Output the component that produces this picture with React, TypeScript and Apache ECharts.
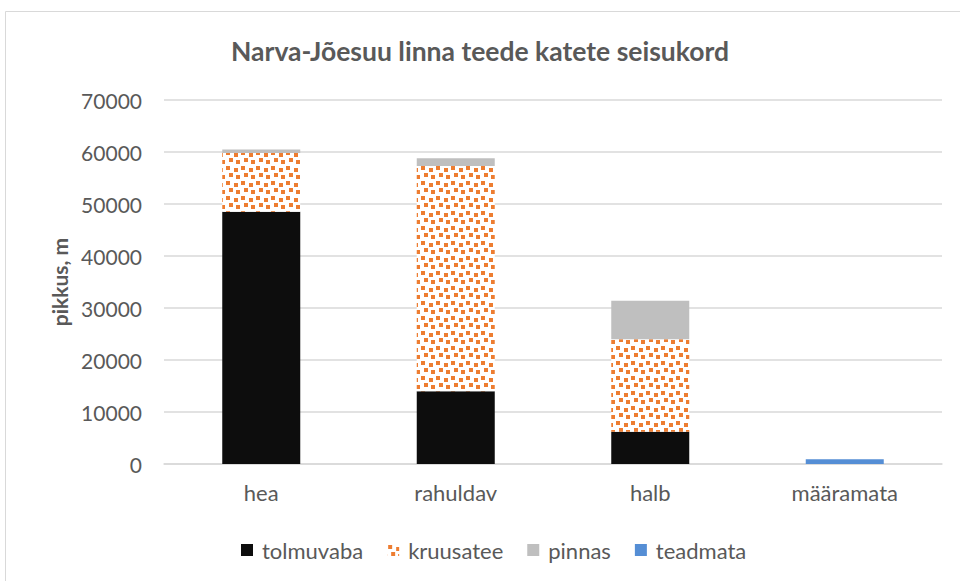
import React, { useEffect, useRef } from "react";
import * as echarts from "echarts";

const categories = ["hea", "rahuldav", "halb", "määramata"];
const tolmuvaba = [48500, 14000, 6200, 0];
const kruusatee = [11300, 43300, 17800, 0];
const pinnas = [700, 1500, 7400, 0];
const teadmata = [0, 0, 0, 900];
const yTicks = [0, 10000, 20000, 30000, 40000, 50000, 60000, 70000];

const FONT = "Lato, 'Open Sans', sans-serif";
const TXT = "#595959";

function makePattern(): HTMLCanvasElement {
  const c = document.createElement("canvas");
  c.width = 15;
  c.height = 15;
  const ctx = c.getContext("2d")!;
  ctx.fillStyle = "#ffffff";
  ctx.fillRect(0, 0, 15, 15);
  ctx.fillStyle = "#ED7D31";
  const pts = [
    [1, 1],
    [9, 3],
    [4, 8],
    [11, 10],
  ];
  for (const [x, y] of pts) ctx.fillRect(x, y, 4, 4);
  return c;
}

export default function App() {
  const ref = useRef<HTMLDivElement>(null);
  useEffect(() => {
    if (!ref.current) return;
    const chart = echarts.init(ref.current, undefined, { renderer: "svg" });
    const pattern = makePattern();
    chart.setOption({
      animation: false,
      backgroundColor: "#ffffff",
      title: {
        text: "Narva-Jõesuu linna teede katete seisukord",
        left: "center",
        top: 32,
        textStyle: { fontFamily: FONT, fontSize: 26.5, fontWeight: "bold", color: TXT },
      },
      graphic: [
        {
          type: "rect",
          shape: { x: 5.5, y: 11.5, width: 1000, height: 1000 },
          style: { fill: "none", stroke: "#d9d9d9", lineWidth: 1 },
          silent: true,
        },
      ],
      legend: {
        left: 236,
        top: 534,
        itemWidth: 12,
        itemHeight: 12,
        itemGap: 24,
        icon: "rect",
        textStyle: { fontFamily: FONT, fontSize: 22, color: TXT, padding: [0, 0, 0, 4] },
        data: ["tolmuvaba", "kruusatee", "pinnas", "teadmata"],
      },
      grid: { left: 164, right: 18, top: 100, bottom: 117, containLabel: false },
      xAxis: {
        type: "category",
        data: categories,
        axisLine: { lineStyle: { color: "#d9d9d9", width: 1.5 } },
        axisTick: { show: false },
        axisLabel: { fontFamily: FONT, fontSize: 22, color: TXT, margin: 17 },
      },
      yAxis: {
        type: "value",
        min: yTicks[0],
        max: yTicks[yTicks.length - 1],
        interval: 10000,
        name: "pikkus, m",
        nameLocation: "middle",
        nameGap: 92,
        nameRotate: 90,
        nameTextStyle: { fontFamily: FONT, fontSize: 21, fontWeight: "bold", color: TXT },
        axisLine: { show: false },
        axisTick: { show: false },
        axisLabel: {
          fontFamily: FONT,
          fontSize: 21,
          color: TXT,
          margin: 22,
          formatter: (v: number) => String(v),
        },
        splitLine: { lineStyle: { color: "#d9d9d9", width: 1.5 } },
      },
      series: [
        { name: "tolmuvaba", type: "bar", stack: "s", barWidth: 78, data: tolmuvaba, itemStyle: { color: "#0D0D0D" } },
        {
          name: "kruusatee",
          type: "bar",
          stack: "s",
          barWidth: 78,
          data: kruusatee,
          itemStyle: { color: { image: pattern, repeat: "repeat" } },
        },
        { name: "pinnas", type: "bar", stack: "s", barWidth: 78, data: pinnas, itemStyle: { color: "#BFBFBF" } },
        { name: "teadmata", type: "bar", stack: "s", barWidth: 78, data: teadmata, itemStyle: { color: "#558ED5" } },
      ],
    });
    return () => chart.dispose();
  }, []);
  return (
    <div
      ref={ref}
      style={{ position: "fixed", left: 0, top: 0, width: 960, height: 581 }}
    />
  );
}
